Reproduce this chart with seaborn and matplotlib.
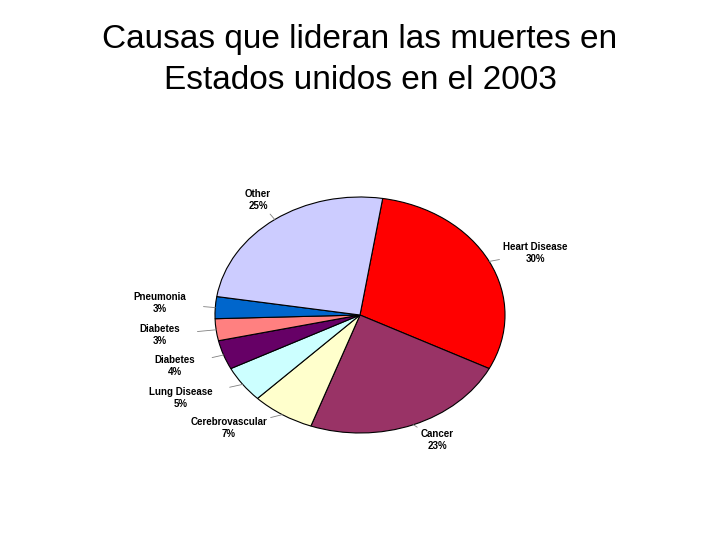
import matplotlib
matplotlib.use("Agg")
import matplotlib.pyplot as plt
import seaborn as sns
import numpy as np

sns.set_theme(style="white")
plt.rcParams['font.family'] = ['Liberation Sans', 'DejaVu Sans']
plt.rcParams['text.color'] = 'black'

categories = ["Heart Disease", "Cancer", "Cerebrovascular", "Lung Disease",
              "Diabetes", "Diabetes", "Pneumonia", "Other"]
values = [30, 23, 7, 5, 4, 3, 3, 25]
pct_labels = ["30%", "23%", "7%", "5%", "4%", "3%", "3%", "25%"]
colors = ["#FF0000", "#993366", "#FFFFCC", "#CCFFFF", "#660066", "#FF8080", "#0066CC", "#CCCCFF"]

fig = plt.figure(figsize=(7.2, 5.4), dpi=100)
fig.text(0.5, 0.955, "Causas que lideran las muertes en\nEstados unidos en el 2003",
         ha="center", va="top", fontsize=24, linespacing=1.4, color="black")

cx, cy, rx, ry = 360, 315, 145, 118
ax = fig.add_axes([(cx - rx) / 720, 1 - (cy + ry) / 540, 2 * rx / 720, 2 * ry / 540])
wedges, _ = ax.pie(values, colors=colors, startangle=81, counterclock=False,
                   wedgeprops=dict(edgecolor="black", linewidth=0.8))
ax.set_aspect("auto")
ax.set_xlim(-1, 1)
ax.set_ylim(-1, 1)
ax.axis("off")

label_px = [(535, 253), (437, 440), (229, 428), (181, 398), (175, 366),
            (160, 335), (160, 303), (258, 200)]
for w, name, pct, (px, py) in zip(wedges, categories, pct_labels, label_px):
    mid = np.deg2rad((w.theta1 + w.theta2) / 2)
    ex, ey = np.cos(mid), np.sin(mid)
    tx, ty = (px - cx) / rx, (cy - py) / ry
    ax.annotate(f"{name}\n{pct}", xy=(ex, ey), xytext=(tx, ty),
                ha="center", va="center", fontsize=7, fontweight="bold",
                color="black", annotation_clip=False,
                arrowprops=dict(arrowstyle="-", color="#808080", lw=0.6,
                                shrinkA=10, shrinkB=0))

fig.savefig("out.png", dpi=100)
